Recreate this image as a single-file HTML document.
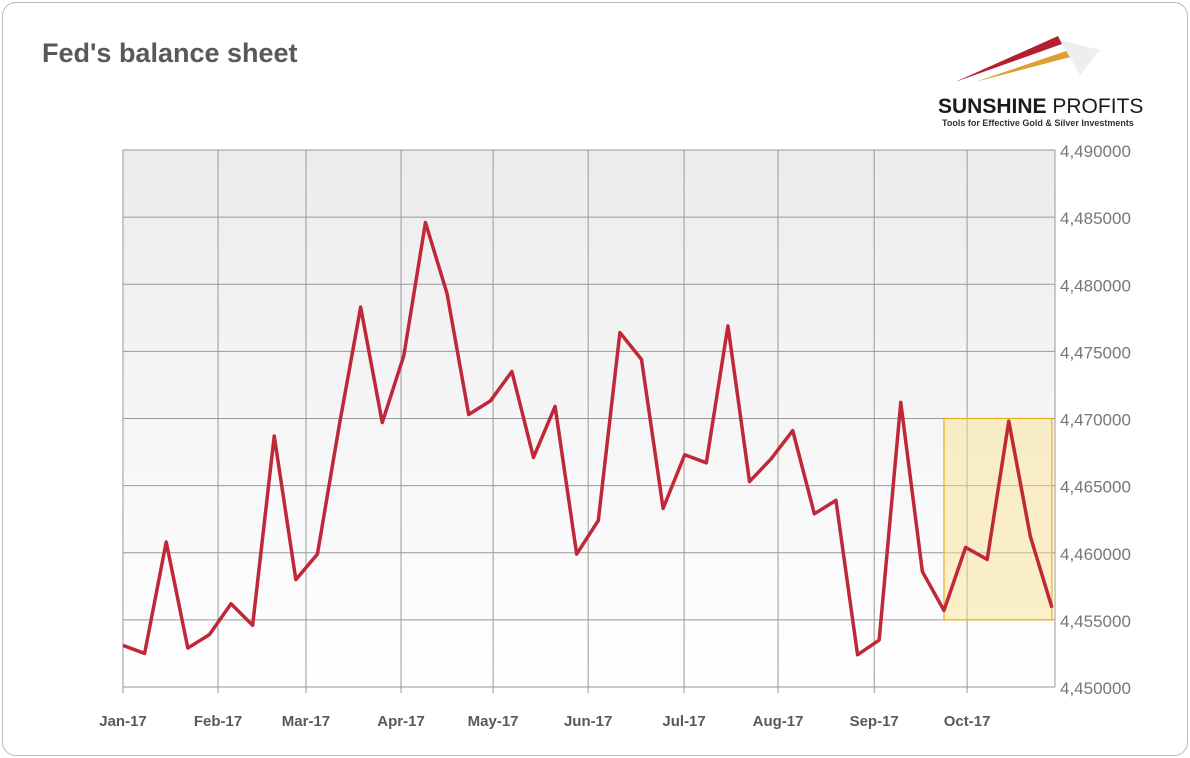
<!DOCTYPE html>
<html><head><meta charset="utf-8"><style>
body{margin:0;background:#fff;font-family:"Liberation Sans",sans-serif;}
#card{position:absolute;left:2px;top:2px;width:1184px;height:752px;border:1px solid #bbb;border-radius:14px;background:#fff;}
#title{position:absolute;left:42px;top:38px;font-size:27px;font-weight:bold;color:#595959;}
</style></head><body>
<div id="card"></div>
<div id="title">Fed's balance sheet</div>
<svg width="1190" height="758" style="position:absolute;left:0;top:0">
<defs><linearGradient id="bg" x1="0" y1="0" x2="0" y2="1"><stop offset="0" stop-color="#ececec"/><stop offset="1" stop-color="#ffffff"/></linearGradient></defs>
<g>
<polygon points="955,82 1058,36 1062,44" fill="#b22030"/>
<polygon points="975,82 1075,48 1078,55" fill="#e0a030"/>
<polygon points="1060,40 1100,50 1080,75" fill="#eee"/>
<text x="938" y="113" font-size="21" font-weight="bold" fill="#1a1a1a">SUNSHINE <tspan font-weight="normal">PROFITS</tspan></text>
<text x="942" y="126" font-size="9" font-weight="bold" fill="#333">Tools for Effective Gold &amp; Silver Investments</text>
</g>
<g id="plot"></g>
</svg>
<script>
const values=[4453100,4452500,4460800,4452900,4453900,4456200,4454600,4468700,4458000,4459900,4469400,4478300,4469700,4474700,4484600,4479300,4470300,4471300,4473500,4467100,4470900,4459900,4462400,4476400,4474400,4463300,4467300,4466700,4476900,4465300,4467000,4469100,4462900,4463900,4452400,4453500,4471200,4458600,4455700,4460400,4459500,4469800,4461200,4455900];
const yTicks=[4450000,4455000,4460000,4465000,4470000,4475000,4480000,4485000,4490000];
const months=["Jan-17","Feb-17","Mar-17","Apr-17","May-17","Jun-17","Jul-17","Aug-17","Sep-17","Oct-17"];
const monthIdx=[0,4.4,8.47,12.87,17.13,21.53,25.97,30.32,34.77,39.07];
const highlight={i0:38,i1:43,v0:4455000,v1:4470000};
const X0=123,X1=1055,Y0=687,Y1=150,step=(1052-123)/43;
const x=i=>X0+i*step, y=v=>Y0-(v-4450000)/40000*(Y0-Y1);
const g=document.getElementById('plot'),NS='http://www.w3.org/2000/svg';
function mk(t,a,txt){const e=document.createElementNS(NS,t);for(const k in a)e.setAttribute(k,a[k]);if(txt!=null)e.textContent=txt;g.appendChild(e);return e;}
let e=mk('rect',{x:X0,y:Y1,width:X1-X0,height:Y0-Y1,fill:'url(#bg)'});

yTicks.forEach(v=>{let l=mk('line',{x1:X0,x2:X1,y1:y(v),y2:y(v),stroke:'#999','stroke-width':1});

const s=String(v);let t=mk('text',{x:1060,y:y(v)+7,'font-size':17,fill:'#777'},s[0]+','+s.slice(1));
});
months.forEach((m,k)=>{const xx=x(monthIdx[k]);let l=mk('line',{x1:xx,x2:xx,y1:Y1,y2:Y0+6,stroke:'#999','stroke-width':1});

let t=mk('text',{x:xx,y:726,'font-size':15,'font-weight':'bold',fill:'#595959','text-anchor':'middle'},m);
});
let r=mk('line',{x1:X1,x2:X1,y1:Y1,y2:Y0,stroke:'#999'});
let h=mk('rect',{x:x(highlight.i0),y:y(highlight.v1),width:x(highlight.i1)-x(highlight.i0),height:y(highlight.v0)-y(highlight.v1),fill:'rgba(250,225,140,0.45)',stroke:'#e8b020','stroke-width':1.2});

let p=mk('polyline',{points:values.map((v,i)=>x(i)+','+y(v)).join(' '),fill:'none',stroke:'#c0283a','stroke-width':3.5,'stroke-linejoin':'round'});

</script>
</body></html>
